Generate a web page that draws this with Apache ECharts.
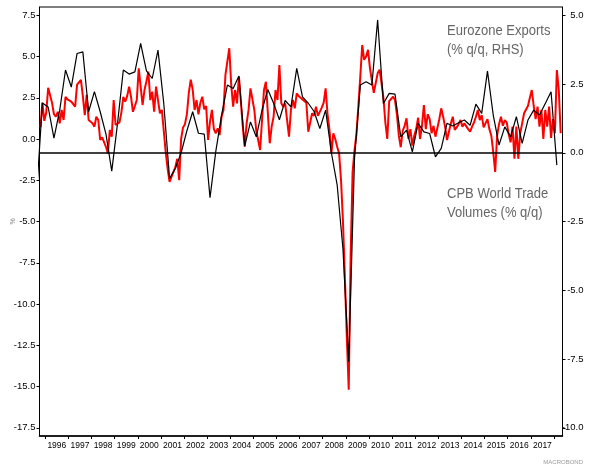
<!DOCTYPE html>
<html>
<head>
<meta charset="utf-8">
<script src="https://cdn.jsdelivr.net/npm/echarts@6/dist/echarts.min.js"></script>
<style>
  html, body { margin: 0; padding: 0; background: #fff; }
  #chart { width: 596px; height: 468px; }
</style>
</head>
<body>
<div id="chart"></div>
<script>
// CPB world trade volumes, % q/q, monthly from Oct 1995 (left axis)
var tradeValues = [
  0.7, 2.2, 1.1,
  1.6, 3.1, 3.1, 2.2, 1.5, 1.35, 1.65, 0.95, 1.76, 1.15, 2.56, 2.4,
  2.36, 2.26, 2.3, 1.96, 3.3, 3.4, 3.58, 2.6, 1.45, 2.67, 1.15, 1.05,
  0.95, 0.75, 1.35, 1.15, -0.06, 0.1, 0.14, -0.47, -0.87, 0.55, 0.14, 2.36,
  0.85, 0.95, 1.0, 1.6, 2.56, 2.26, 2.6, 3.17, 2.56, 1.65, 2.0, 2.36,
  4.28, 3.17, 2.06, 2.97, 3.5, 4.08, 2.36, 2.87, 1.65, 3.17, 2.36, 1.56,
  1.76, 0.5, -0.8, -1.8, -2.6, -2.3, -2.0, -1.7, -1.2, -2.5, 0.0, 0.7,
  0.9, 1.5, 2.8, 3.6, 3.0, 1.76, 2.36, 1.5, 2.2, 2.56, 1.8, 2.0,
  -0.06, 1.05, 1.76, 0.6, 0.35, 0.65, 0.24, 1.35, 1.76, 3.88, 3.78, 5.5,
  3.3, 1.96, 2.97, 2.16, 3.78, 2.26, 0.75, -0.47, 0.95, 1.76, 3.07, 3.0,
  1.76, 0.5, -0.06, -0.67, 1.15, 2.97, 3.47, 3.38, -0.26, 0.75, 1.35, 2.97,
  2.36, 4.48, 2.16, 1.96, 2.16, 1.15, 0.14, 1.76, 2.36, 1.86, 2.77, 2.6,
  2.56, 2.4, 2.36, 2.2, 0.44, 0.35, 1.56, 1.4, 1.96, 1.4, 1.5, 1.9,
  2.2, 3.07, 1.5, 0.55, -0.87, 0.35, 0.0, -0.47, -0.87, -2.5, -5.0, -8.4,
  -12.0, -15.2, -7.0, -2.0, -0.67, 0.3, 2.0, 3.8, 5.7, 4.8, 5.0, 5.4,
  4.3, 4.3, 2.8, 2.7, 3.98, 4.2, 3.38, 2.5, 1.0, 0.0, 2.3, 2.4,
  2.56, 2.36, 1.5, 0.2, -0.5, 0.5, 0.8, 1.25, 0.0, 0.6, -0.4, 0.2,
  0.6, 1.3, 0.0, 0.8, 2.06, 0.6, 1.5, 1.2, 0.35, 0.8, 0.14, 0.1,
  1.2, 1.86, 1.35, 0.75, -0.06, 0.44, 0.95, 1.35, 0.55, 0.7, 0.9, 1.15,
  0.75, 0.95, 0.85, 0.6, 0.44, 0.75, 1.0, 1.35, 1.76, 1.15, 1.45, 0.7,
  0.75, 1.2, 0.6, 0.2, -0.8, -2.0, 0.2, 0.9, 1.35, 0.8, 1.15, 1.0,
  0.3, -0.2, 0.75, -1.2, 0.75, -1.2, 0.35, 0.95, 1.56, 1.5, 2.0, 2.5,
  2.97, 2.0, 1.2, 1.96, 0.75, 1.76, 0.0, 1.76, 0.75, 1.96, 0.06, 1.2,
  0.35, 4.18, 3.0, 0.35
];

// Eurozone exports, % q/q, quarterly from 1995 Q3 (right axis)
var exportValues = [
  -1.5, 1.81,
  1.66, 0.53, 1.55, 3.01,
  2.39, 3.61, 3.67, 1.49,
  2.22, 1.49, 0.68, -0.67,
  1.07, 3.01, 2.86, 2.94,
  3.98, 2.98, 2.70, 3.73,
  1.79, -0.94, -0.57, 0.0,
  0.8, 1.49, 0.71, 0.68,
  -1.63, 0.05, 1.37, 2.46,
  2.34, 2.79, 0.24, 1.12,
  0.58, 1.55, 2.3, 1.8,
  1.2, 1.9, 1.67, 3.07,
  2.03, 1.8, 1.5, 0.88,
  1.55, 0.0, -1.18, -3.5,
  -7.6, -0.2, 2.46, 2.58,
  2.46, 4.83, 1.79, 2.16,
  2.13, 0.58, 0.82, 0.03,
  1.07, 0.76, 0.7, -0.15,
  0.16, 1.07, 0.97, 1.09,
  1.19, 1.0, 1.77, 1.43,
  2.97, 1.37, 0.28, 0.94,
  0.58, 1.31, 0.34, 1.19,
  1.55, 1.37, 1.79, 2.22,
  -0.45
];

var leftTicks = [-17.5, -15, -12.5, -10, -7.5, -5, -2.5, 0, 2.5, 5, 7.5];
var rightTicks = [-10, -7.5, -5, -2.5, 0, 2.5, 5];
var years = [];
for (var y = 1996; y <= 2017; y++) years.push(y);

// x positions in decimal years: mid-month / mid-quarter
var tradeX = tradeValues.map(function (v, i) { return 1995 + (9 + i + 0.5) / 12; });
var exportX = exportValues.map(function (v, j) { return 1995 + ((2 + j) * 3 + 1.5) / 12; });

var yearStarts = years.concat([2018]);
var yearMids = years.map(function (y) { return y + 0.5; });

var labelFont = '"Liberation Sans", Arial, sans-serif';

var chart = echarts.init(document.getElementById('chart'));
var option = {
  animation: false,
  grid: {
    left: 39.5, right: 33.5, top: 7, bottom: 32,
    containLabel: false, outerBoundsMode: 'none',
    show: true, borderColor: '#000', borderWidth: 1
  },
  xAxis: {
    type: 'value',
    min: 1995.75,
    max: 2018.37,
    axisLine: { onZero: false, lineStyle: { color: '#000', width: 1.5 } },
    splitLine: { show: false },
    axisTick: { customValues: yearStarts, length: 3, lineStyle: { color: '#000' } },
    axisLabel: {
      customValues: yearMids,
      formatter: function (v) { return Math.floor(v); },
      fontFamily: labelFont, fontSize: 8.5, color: '#000', margin: 5
    }
  },
  yAxis: [
    {
      type: 'value', position: 'left', min: -18, max: 8,
      name: '%', nameLocation: 'middle', nameRotate: 90, nameGap: 23,
      nameMoveOverlap: false,
      nameTextStyle: { fontSize: 7, color: '#888' },
      axisLine: { show: true, onZero: false, lineStyle: { color: '#000', width: 1 } },
      splitLine: { show: false },
      axisTick: { show: true, customValues: leftTicks, length: 3, lineStyle: { color: '#000' } },
      axisLabel: {
        customValues: leftTicks,
        formatter: function (v) { return v.toFixed(1); },
        fontFamily: labelFont, fontSize: 9.5, color: '#000', margin: 4
      }
    },
    {
      type: 'value', position: 'right', min: -10.3, max: 5.3,
      axisLine: { show: true, onZero: false, lineStyle: { color: '#000', width: 1 } },
      splitLine: { show: false },
      axisTick: { show: true, customValues: rightTicks, length: 3, lineStyle: { color: '#000' } },
      axisLabel: {
        customValues: rightTicks,
        formatter: function (v) { return v.toFixed(1); },
        fontFamily: labelFont, fontSize: 9.5, color: '#000', margin: 21, align: 'right'
      }
    }
  ],
  series: [
    {
      name: 'CPB World Trade Volumes',
      type: 'line', yAxisIndex: 0, showSymbol: false,
      data: tradeValues.map(function (v, i) { return [tradeX[i], v]; }),
      lineStyle: { color: '#ff0000', width: 2 },
      itemStyle: { color: '#ff0000' }
    },
    {
      name: 'Eurozone Exports',
      type: 'line', yAxisIndex: 1, showSymbol: false,
      data: exportValues.map(function (v, i) { return [exportX[i], v]; }),
      lineStyle: { color: '#000', width: 1.2 },
      itemStyle: { color: '#000' },
      markLine: {
        silent: true, symbol: ['none', 'none'],
        label: { show: false },
        lineStyle: { color: '#000', width: 1.5, type: 'solid' },
        data: [{ yAxis: 0 }]
      }
    }
  ],
  graphic: [
    {
      type: 'text', x: 447, y: 22, scaleX: 0.93,
      style: {
        text: 'Eurozone Exports\n(% q/q, RHS)', fill: '#666', lineHeight: 19,
        font: '14px "Liberation Sans", Arial, sans-serif'
      }
    },
    {
      type: 'text', x: 447, y: 184.5, scaleX: 0.93,
      style: {
        text: 'CPB World Trade\nVolumes (% q/q)', fill: '#666', lineHeight: 19,
        font: '14px "Liberation Sans", Arial, sans-serif'
      }
    },
    {
      type: 'text', x: 583, y: 462,
      style: {
        text: 'MACROBOND', fill: '#999', align: 'right', verticalAlign: 'middle',
        font: '6px "Liberation Sans", Arial, sans-serif'
      }
    }
  ]
};
chart.setOption(option);
</script>
</body>
</html>
